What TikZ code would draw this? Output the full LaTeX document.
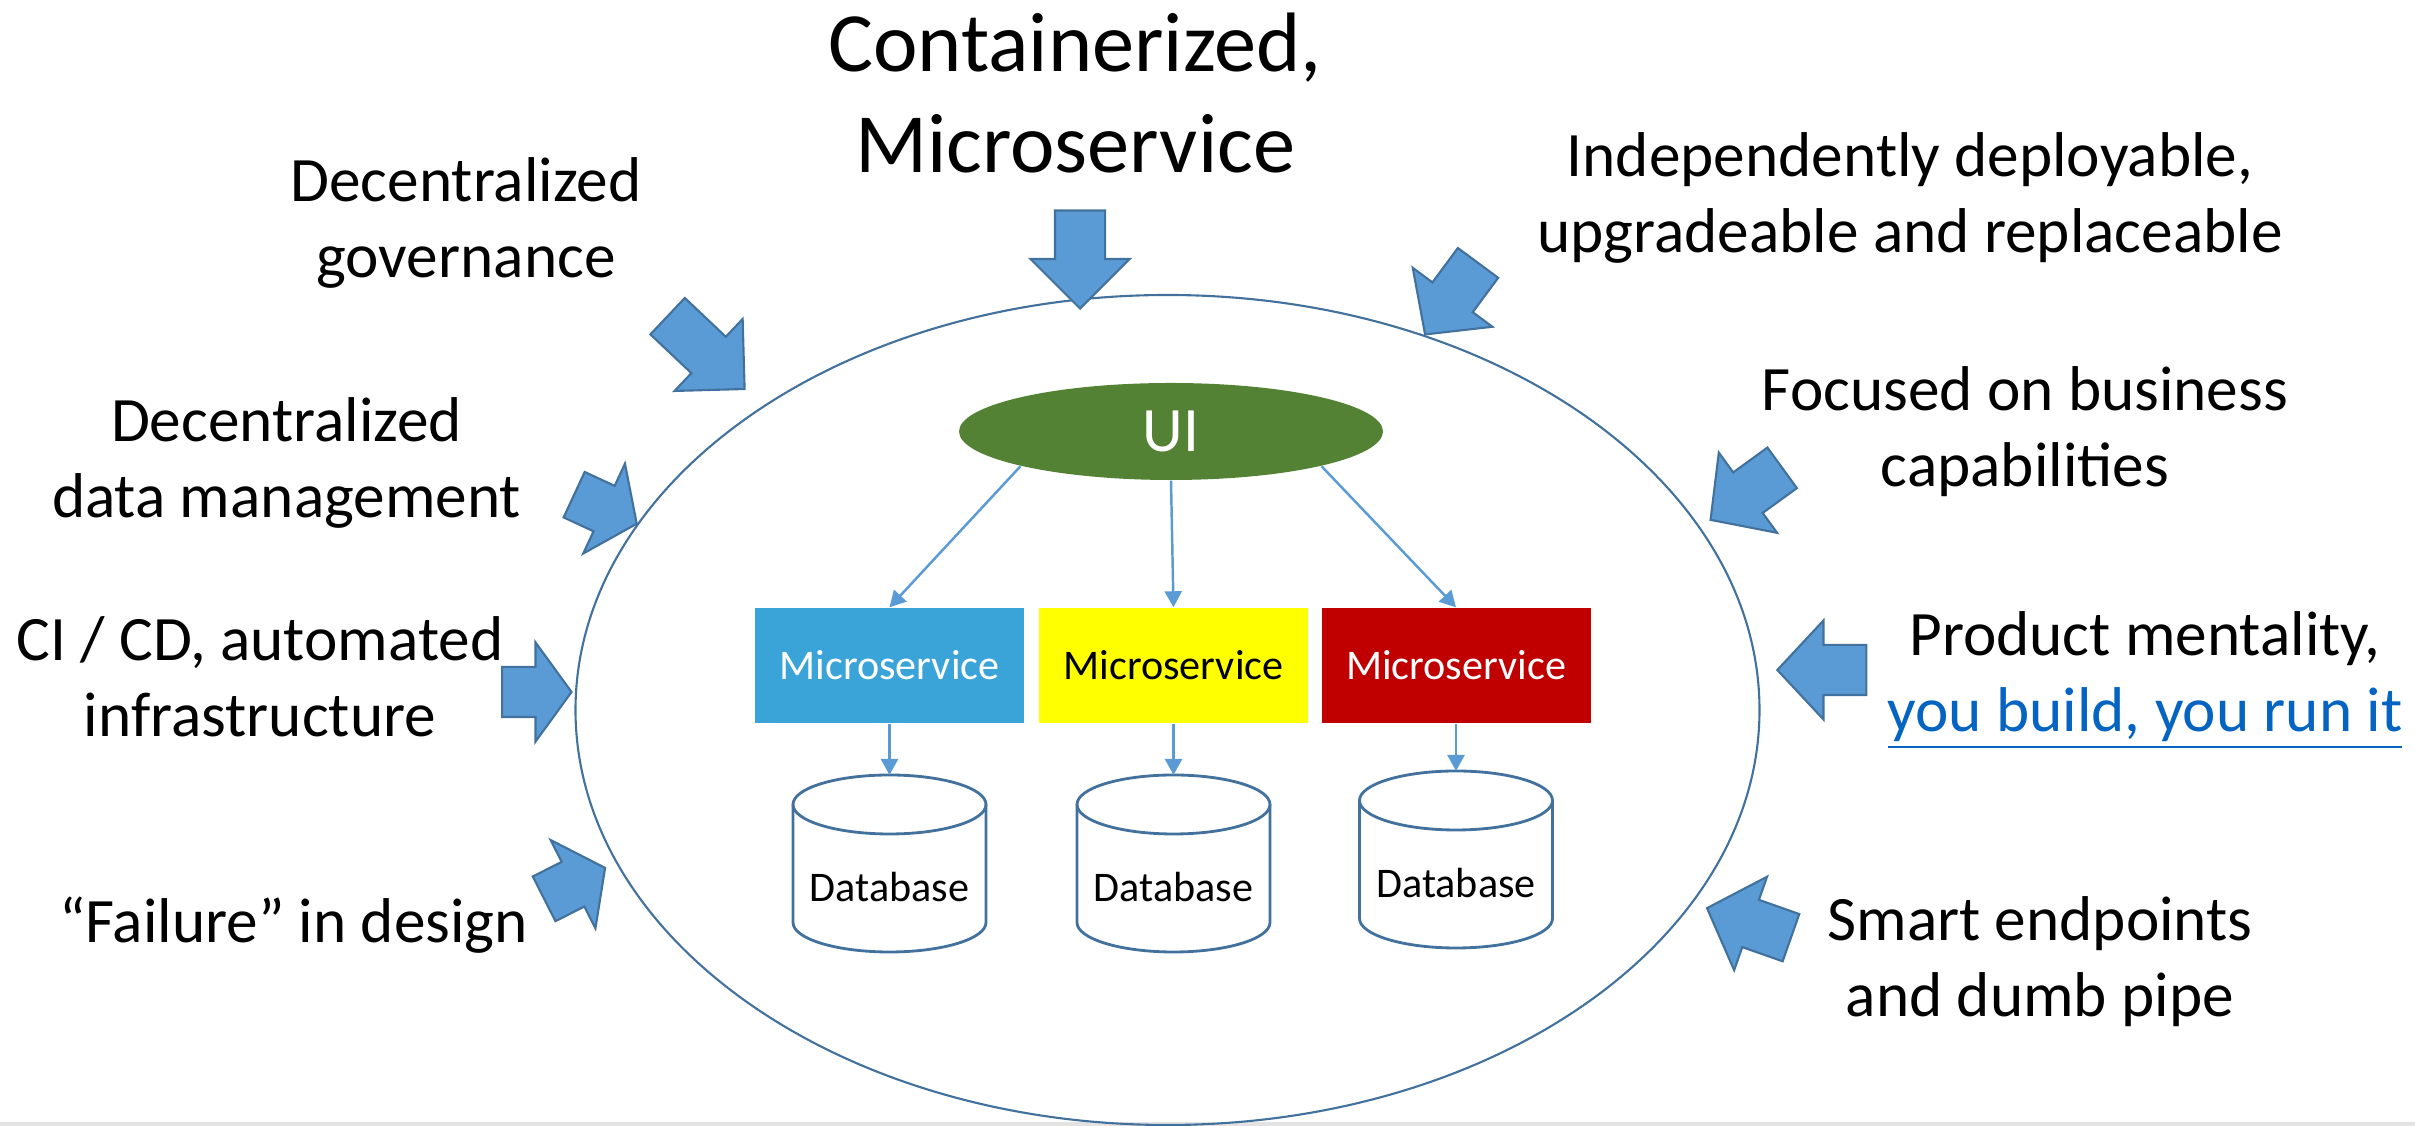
\documentclass[tikz,border=0pt]{standalone}
\usepackage{fontspec}
\setmainfont{Carlito}
\usetikzlibrary{arrows.meta,shapes.arrows,shapes.geometric}

\definecolor{arrowblue}{RGB}{91,155,213}
\definecolor{lineblue}{RGB}{65,113,156}
\definecolor{uigreen}{RGB}{84,130,53}
\definecolor{msblue}{RGB}{58,164,216}
\definecolor{msyellow}{RGB}{255,255,0}
\definecolor{msred}{RGB}{192,0,0}
\definecolor{linkblue}{RGB}{5,99,193}

\tikzset{>={Triangle[width=1.7mm,length=1.6mm]}}
\tikzset{
  fatarrow/.style={single arrow, draw=lineblue, fill=arrowblue, line width=0.6pt,
    inner xsep=0pt, inner ysep=0.24cm, single arrow head extend=0.245cm},
  txt/.style={anchor=base, align=center, font=\fontsize{18}{21.8}\selectfont},
  msbox/.style={rectangle, minimum width=2.69cm, minimum height=1.15cm, inner sep=0pt,
    text=white, font=\fontsize{12}{14}\selectfont},
  conn/.style={draw=arrowblue, line width=0.7pt, ->},
  dbline/.style={draw=lineblue, line width=0.8pt}
}
\def\dbrx{0.965}
\def\dbry{0.295}
\def\dbbody{1.18}

\begin{document}
\begin{tikzpicture}
  \useasboundingbox (0,0) rectangle (24.15,11.26);
  % bottom strip
  \fill[black!11] (0,0) rectangle (24.15,0.04);
  % system boundary
  \draw[lineblue, line width=0.6pt] (11.675,4.16) ellipse (5.92 and 4.15);
  % block arrows pointing in
  \foreach \n/\x/\y/\ang/\len/\tip in {
    cont/10.80/8.79/-90/0.98/90,
    gov/6.97/7.82/-43.4/1.06/90,
    indep/14.585/8.367/-126.5/0.89/94,
    data/5.972/6.206/-24.9/0.69/108,
    cicd/5.277/4.34/0/0.695/108,
    fail/5.665/2.385/26.9/0.684/108,
    focus/17.558/6.39/-144/0.885/94,
    prod/18.335/4.56/180/0.89/94,
    smart/17.60/1.992/160.6/0.89/94} {
    \node[fatarrow, rotate=\ang, minimum height=\len cm, single arrow tip angle=\tip] (arr-\n) at (\x,\y) {};
  }
  % labels (base = last line)
  \node[txt, font=\fontsize{24}{29}\selectfont] (cont) at (10.75,9.53) {Containerized,\\Microservice};
  \node[txt] (gov) at (4.66,8.48) {Decentralized\\governance};
  \node[txt] (indep) at (19.10,8.73) {Independently deployable,\\upgradeable and replaceable};
  \node[txt] (data) at (2.865,6.08) {Decentralized\\data management};
  \node[txt] (cicd) at (2.60,3.89) {CI / CD, automated\\infrastructure};
  \node[txt] (fail) at (2.935,1.83) {“Failure” in design};
  \node[txt] (focus) at (20.25,6.39) {Focused on business\\capabilities};
  \node[txt] (prod) at (21.45,3.94) {Product mentality,\\\textcolor{linkblue}{\underline{you build, you run it}}};
  \node[txt] (smart) at (20.40,1.09) {Smart endpoints\\and dumb pipe};
  % UI
  \node[ellipse, fill=uigreen, minimum width=4.24cm, minimum height=0.97cm, inner sep=0pt,
    text=white, font=\fontsize{18}{20}\selectfont] (ui) at (11.71,6.945) {UI};
  % microservices
  \node[msbox, fill=msblue] (ms1) at (8.895,4.605) {Microservice};
  \node[msbox, fill=msyellow, text=black] (ms2) at (11.735,4.605) {Microservice};
  \node[msbox, fill=msred] (ms3) at (14.56,4.605) {Microservice};
  % databases
  \foreach \n/\x/\y in {1/8.895/3.51, 2/11.735/3.51, 3/14.56/3.55} {
    \draw[dbline] (\x-\dbrx,\y-\dbry) -- ++(0,-\dbbody) arc (180:360:\dbrx cm and \dbry cm) -- ++(0,\dbbody);
    \draw[dbline] (\x,\y-\dbry) ellipse (\dbrx cm and \dbry cm);
    \coordinate (db\n) at (\x,\y);
    \node[font=\fontsize{12}{14}\selectfont] (dbtxt\n) at (\x,\y-1.12) {Database};
  }
  % connectors
  \draw[conn] (ui.193) -- (ms1.north);
  \draw[conn] (ui.south) -- (ms2.north);
  \draw[conn] (ui.-13) -- (ms3.north);
  \foreach \n in {1,2,3}
    \draw[conn] (ms\n.south) -- (db\n);
\end{tikzpicture}
\end{document}
